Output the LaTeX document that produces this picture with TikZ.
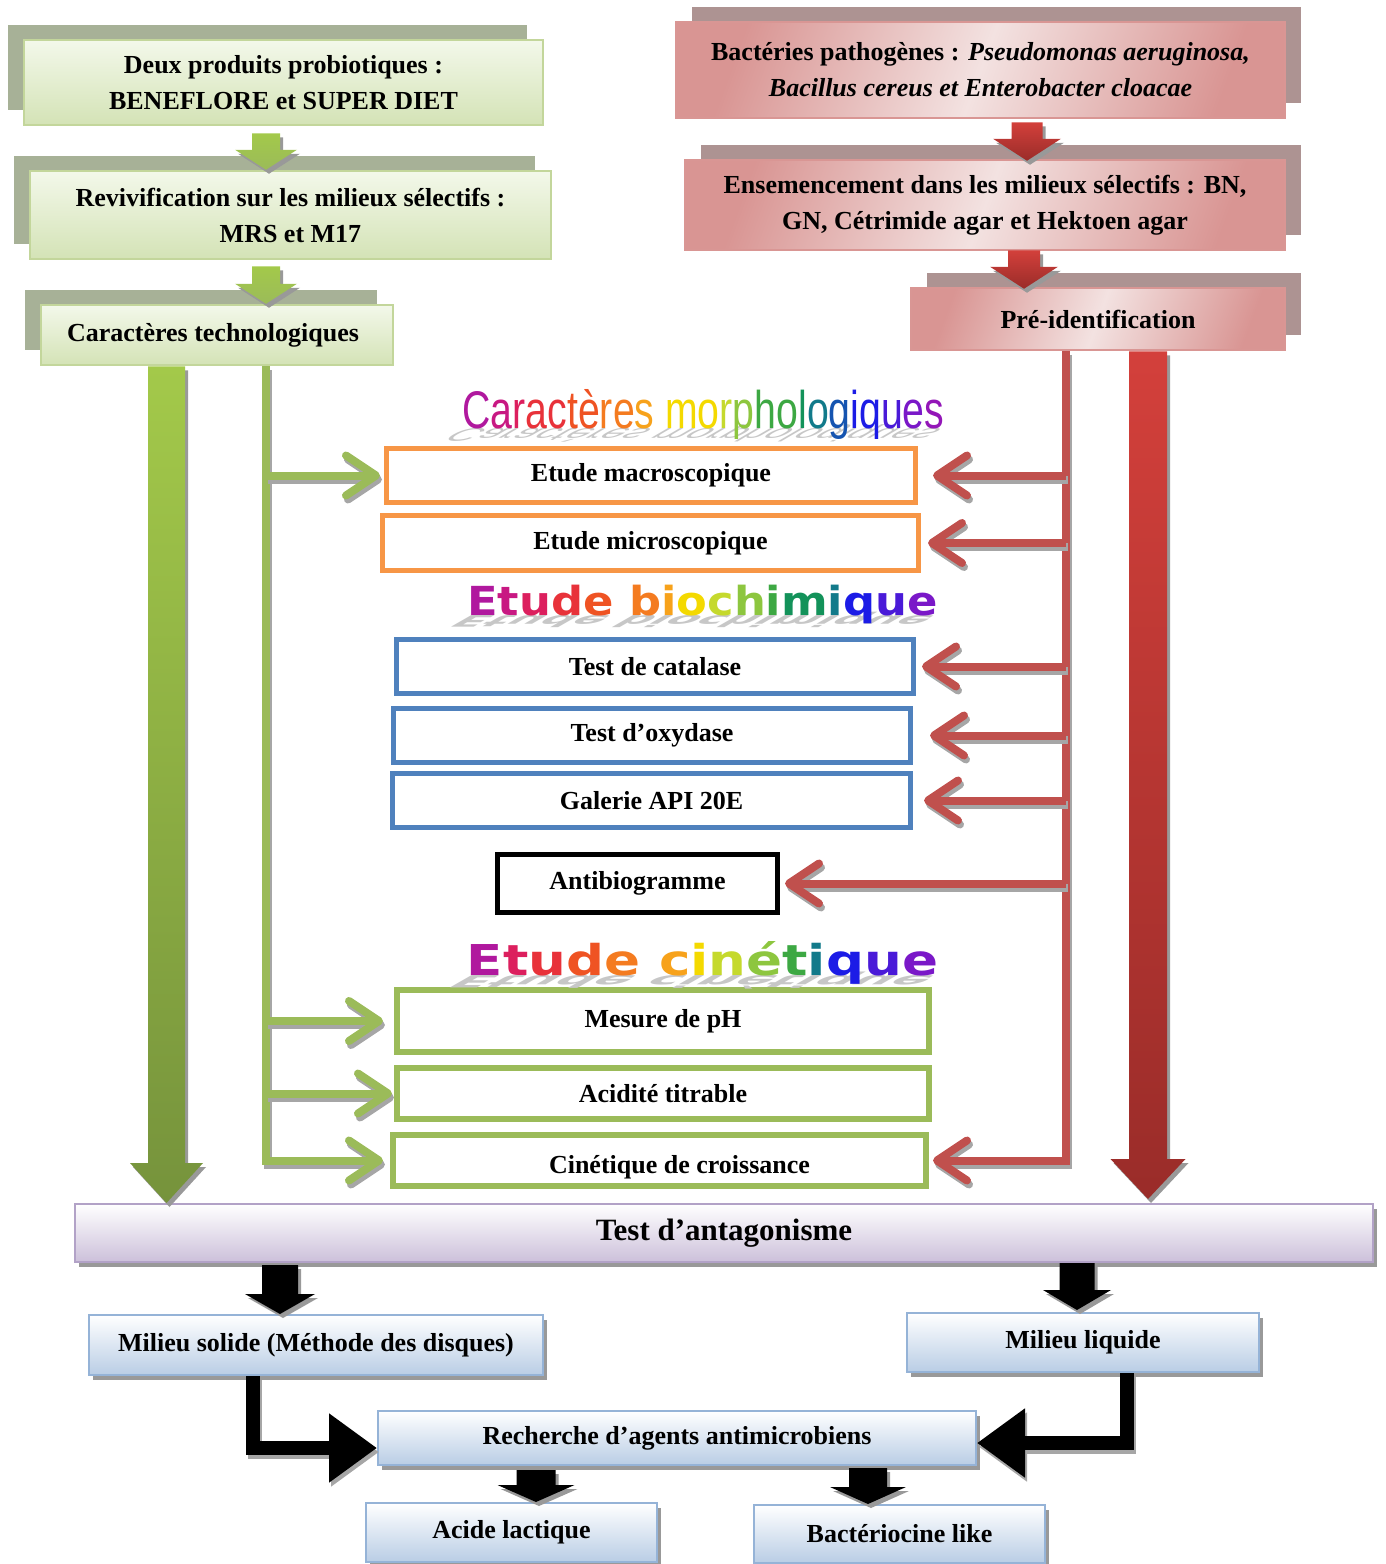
\documentclass[tikz,border=0pt]{standalone}
\usepackage{fontspec}
\setmainfont{Liberation Serif}
\newfontfamily\narrowsans[FakeStretch=0.74]{Liberation Sans}
\newfontfamily\widesans{DejaVu Sans}
\usetikzlibrary{arrows.meta,shadows,calc}
\definecolor{gfillA}{HTML}{F3F8EA}
\definecolor{gfillB}{HTML}{D4E3B6}
\definecolor{gborder}{HTML}{C3D69B}
\definecolor{gshadow}{HTML}{A7B197}
\definecolor{rfillA}{HTML}{F3E2E1}
\definecolor{rfillB}{HTML}{D99593}
\definecolor{rborder}{HTML}{D99694}
\definecolor{rshadow}{HTML}{AD9392}
\definecolor{orng}{HTML}{F79646}
\definecolor{blu}{HTML}{4F81BD}
\definecolor{lgreen}{HTML}{9BBB59}
\definecolor{lred}{HTML}{C0504D}
\definecolor{lavB}{HTML}{CCC0DA}
\definecolor{lavborder}{HTML}{B2A2C7}
\definecolor{lblueB}{HTML}{B9CDE5}
\definecolor{lblueborder}{HTML}{95B3D7}
\definecolor{biggrA}{HTML}{A3C94A}
\definecolor{biggrB}{HTML}{76933C}
\definecolor{bigrA}{HTML}{D3403B}
\definecolor{bigrB}{HTML}{9A2C29}
\definecolor{c1}{HTML}{B0189E}
\definecolor{c2}{HTML}{C81882}
\definecolor{c3}{HTML}{DC1F5E}
\definecolor{c4}{HTML}{E8323A}
\definecolor{c5}{HTML}{EF5323}
\definecolor{c6}{HTML}{F47B20}
\definecolor{c7}{HTML}{F7A21B}
\definecolor{c8}{HTML}{F4D900}
\definecolor{c9}{HTML}{C5D92D}
\definecolor{c10}{HTML}{8DC63F}
\definecolor{c11}{HTML}{3DA843}
\definecolor{c12}{HTML}{13925A}
\definecolor{c13}{HTML}{127A8A}
\definecolor{c14}{HTML}{1554B0}
\definecolor{c15}{HTML}{1C1CE6}
\definecolor{c16}{HTML}{4A1AD8}
\definecolor{c17}{HTML}{7A18C8}
\definecolor{c18}{HTML}{9316B8}
\newcommand{\lc}[2]{\textcolor{#1}{#2}}
\newcommand{\twodraw}[2]{\draw[#1, draw=black!35, transform canvas={shift={(2pt,-4pt)}}] #2; \draw[#1] #2;}
\newcommand{\blockdown}[7]{%
  \path[fill=black!40] let \p1=#1, \p2=#2 in
   (\x1-#3+3pt,\y1-4pt) -- (\x1+#3+3pt,\y1-4pt) -- (\x1+#3+3pt,\y2+#5-4pt) -- (\x1+#4+3pt,\y2+#5-4pt) -- (\x1+3pt,\y2-4pt) -- (\x1-#4+3pt,\y2+#5-4pt) -- (\x1-#3+3pt,\y2+#5-4pt) -- cycle;
  \shade[top color=#6, bottom color=#7] let \p1=#1, \p2=#2 in
   (\x1-#3,\y1) -- (\x1+#3,\y1) -- (\x1+#3,\y2+#5) -- (\x1+#4,\y2+#5) -- (\x1,\y2) -- (\x1-#4,\y2+#5) -- (\x1-#3,\y2+#5) -- cycle;
}
\begin{document}
\begin{tikzpicture}[x=1pt,y=-1pt,
  txt/.style={font=\bfseries\fontsize{26}{36}\selectfont, align=center, inner sep=0pt, text=black},
  gbox/.style={txt, draw=gborder, line width=2.5pt, top color=gfillA, bottom color=gfillB,
     general shadow={fill=gshadow, shadow xshift=-16pt, shadow yshift=15pt}},
  rbox/.style={txt, draw=rborder, line width=2.5pt, left color=rfillB, right color=rfillB, middle color=rfillA, shading angle=70,
     general shadow={fill=rshadow, shadow xshift=16pt, shadow yshift=15pt}},
  obox/.style={txt, draw=orng, line width=5pt, fill=white},
  bbox/.style={txt, draw=blu, line width=5pt, fill=white},
  kbox/.style={txt, draw=black, line width=5pt, fill=white},
  vbox/.style={txt, draw=lgreen, line width=6pt, fill=white},
  lbbox/.style={txt, draw=lblueborder, line width=2pt, top color=white, bottom color=lblueB,
     general shadow={fill=black!40, shadow xshift=4pt, shadow yshift=-5pt}},
  lavbox/.style={txt, draw=lavborder, line width=2pt, top color=white, bottom color=lavB,
     general shadow={fill=black!40, shadow xshift=4pt, shadow yshift=-5pt}},
  grarr/.style={draw=lgreen, line width=8pt, -{Straight Barb[length=30pt,width=40pt,round]}},
  rdarr/.style={draw=lred, line width=8pt, -{Straight Barb[length=30pt,width=40pt,round]}},
  blk/.style={draw=black, line width=14pt, line join=miter, -{Triangle[length=48pt,width=66pt]}},
  ttl/.style={anchor=base, inner sep=0pt}
]
\useasboundingbox (0,0) rectangle (1385,1564);

% ---- top left green boxes
\node[gbox, minimum width=519pt, minimum height=85pt] (g1) at (283.5,82.5) {Deux produits probiotiques :\\BENEFLORE et SUPER DIET};
\node[gbox, minimum width=521pt, minimum height=88pt] (g2) at (290.5,215) {Revivification sur les milieux sélectifs :\\MRS et M17};
\node[gbox, minimum width=352pt, minimum height=60pt] (ct) at (217,335) {Caractères technologiques\hspace*{8pt}};

% ---- top right red boxes
\node[rbox, minimum width=609pt, minimum height=96pt] (r1) at (980.5,70) {Bactéries pathogènes : \textit{Pseudomonas aeruginosa,}\\\textit{Bacillus cereus et Enterobacter cloacae}};
\node[rbox, minimum width=600pt, minimum height=90pt] (r2) at (985,205) {Ensemencement dans les milieux sélectifs : BN,\\GN, Cétrimide agar et Hektoen agar};
\node[rbox, minimum width=374pt, minimum height=62pt] (pi) at (1098,319) {Pré-identification};

% ---- middle boxes
\node[obox, minimum width=529pt, minimum height=54pt] (mac) at (651,475.5) {Etude macroscopique};
\node[obox, minimum width=536pt, minimum height=55pt] (mic) at (650.5,543) {Etude microscopique};
\node[bbox, minimum width=517pt, minimum height=54pt] (cat) at (655,666.5) {Test de catalase};
\node[bbox, minimum width=517pt, minimum height=54pt] (oxy) at (652,735.5) {Test d’oxydase};
\node[bbox, minimum width=518pt, minimum height=54pt] (api) at (651.5,800.5) {Galerie API 20E};
\node[kbox, minimum width=280pt, minimum height=58pt] (anti) at (637.5,883.5) {Antibiogramme};
\node[vbox, minimum width=532pt, minimum height=62pt] (ph) at (663,1021) {Mesure de pH};
\node[vbox, minimum width=532pt, minimum height=51pt] (ac) at (663,1093.5) {Acidité titrable};
\node[vbox, minimum width=533pt, minimum height=51pt] (cc) at (659.5,1160.5) {\raisebox{-7pt}[\height][\depth]{\hspace*{40pt}Cinétique de croissance}};

% ---- bottom boxes
\node[lavbox, minimum width=1298pt, minimum height=58pt, font=\bfseries\fontsize{31}{36}\selectfont] (ta) at (724,1233) {Test d’antagonisme};
\node[lbbox, minimum width=454pt, minimum height=60pt] (ms) at (316,1345) {Milieu solide (Méthode des disques)};
\node[lbbox, minimum width=352pt, minimum height=59pt] (ml) at (1083,1342.5) {Milieu liquide};
\node[lbbox, minimum width=598pt, minimum height=54pt] (rc) at (677,1438) {Recherche d’agents antimicrobiens};
\node[lbbox, minimum width=291pt, minimum height=59pt] (al) at (511.5,1532.5) {Acide lactique};
\node[lbbox, minimum width=291pt, minimum height=58pt] (bl) at (899.5,1534) {Bactériocine like};

% ---- titles (shadows first)
\begin{scope}[shift={(703.5,428)}, cm={1,0,-0.6,-0.35,(0,0)}]
  \node[ttl, transform shape, text=black!22] {\narrowsans\fontsize{53}{53}\selectfont Caractères morphologiques};
\end{scope}
\node[ttl] (t1) at (703.5,428) {\narrowsans\fontsize{53}{53}\selectfont
 \lc{c1}{C}\lc{c2}{a}\lc{c3}{r}\lc{c4}{a}\lc{c4}{c}\lc{c5}{t}\lc{c5}{è}\lc{c6}{r}\lc{c6}{e}\lc{c7}{s} \lc{c8}{m}\lc{c8}{o}\lc{c9}{r}\lc{c10}{p}\lc{c11}{h}\lc{c11}{o}\lc{c12}{l}\lc{c13}{o}\lc{c14}{g}\lc{c15}{i}\lc{c15}{q}\lc{c16}{u}\lc{c17}{e}\lc{c18}{s}};

\begin{scope}[shift={(702.5,615)}, cm={1,0,-0.7,-0.4,(0,0)}]
  \node[ttl, transform shape, text=black!22] {\scalebox{1.12}[1]{\widesans\bfseries\fontsize{40}{40}\selectfont Etude biochimique}};
\end{scope}
\node[ttl] (t2) at (702.5,615) {\scalebox{1.12}[1]{\widesans\bfseries\fontsize{40}{40}\selectfont
 \lc{c1}{E}\lc{c2}{t}\lc{c3}{u}\lc{c4}{d}\lc{c5}{e} \lc{c6}{b}\lc{c7}{i}\lc{c8}{o}\lc{c9}{c}\lc{c10}{h}\lc{c11}{i}\lc{c12}{m}\lc{c13}{i}\lc{c15}{q}\lc{c16}{u}\lc{c17}{e}}};

\begin{scope}[shift={(702.5,975)}, cm={1,0,-0.7,-0.4,(0,0)}]
  \node[ttl, transform shape, text=black!22] {\scalebox{1.25}[1]{\widesans\bfseries\fontsize{42.5}{42.5}\selectfont Etude cinétique}};
\end{scope}
\node[ttl] (t3) at (702.5,975) {\scalebox{1.25}[1]{\widesans\bfseries\fontsize{42.5}{42.5}\selectfont
 \lc{c1}{E}\lc{c3}{t}\lc{c4}{u}\lc{c5}{d}\lc{c6}{e} \lc{c7}{c}\lc{c8}{i}\lc{c9}{n}\lc{c10}{é}\lc{c11}{t}\lc{c13}{i}\lc{c15}{q}\lc{c16}{u}\lc{c17}{e}}};

% ---- small block arrows top
\blockdown{($(266,0 |- g1.south)+(0,7)$)}{(266,0 |- g2.north)}{14pt}{31pt}{20pt}{biggrA}{lgreen}
\blockdown{($(266,0 |- g2.south)+(0,6)$)}{(266,0 |- ct.north)}{14pt}{31pt}{20pt}{biggrA}{lgreen}
\blockdown{($(1027,0 |- r1.south)+(0,3)$)}{($(1027,0 |- r2.north)+(0,2)$)}{15.5pt}{34pt}{22pt}{bigrA}{bigrB}
\blockdown{($(1024,0 |- r2.south)+(0,-1)$)}{($(1024,0 |- pi.north)+(0,2)$)}{16pt}{34pt}{22pt}{bigrA}{bigrB}

% ---- big arrows
\blockdown{(166.5,0 |- ct.south)}{(166.5,0 |- ta.north)}{18.5pt}{36.5pt}{40pt}{biggrA}{biggrB}
\blockdown{(1148,0 |- pi.south)}{($(1148,0 |- ta.north)+(0,-4)$)}{19pt}{37.5pt}{40pt}{bigrA}{bigrB}

% ---- green thin arrows
\twodraw{grarr}{(266,0 |- ct.south) |- ([xshift=-7pt]cc.west)}
\twodraw{grarr}{(266,0 |- mac.west) -- ([xshift=-4pt]mac.west)}
\twodraw{grarr}{(266,0 |- ph.west) -- ([xshift=-11pt]ph.west)}
\twodraw{grarr}{(266,0 |- ac.west) -- ([xshift=-2pt]ac.west)}

% ---- red thin arrows
\twodraw{rdarr}{(1066,0 |- pi.south) |- ([xshift=4pt]cc.east)}
\twodraw{rdarr}{(1066,0 |- mac.east) -- ([xshift=15pt]mac.east)}
\twodraw{rdarr}{(1066,0 |- mic.east) -- ([xshift=7pt]mic.east)}
\twodraw{rdarr}{(1066,0 |- cat.east) -- ([xshift=6pt]cat.east)}
\twodraw{rdarr}{(1066,0 |- oxy.east) -- ([xshift=17pt]oxy.east)}
\twodraw{rdarr}{(1066,0 |- api.east) -- ([xshift=11pt]api.east)}
\twodraw{rdarr}{(1066,0 |- anti.east) -- ([xshift=5pt]anti.east)}

% ---- black arrows bottom
\blockdown{($(280,0 |- ta.south)+(0,2)$)}{(280,0 |- ms.north)}{18pt}{35pt}{20pt}{black}{black}
\blockdown{($(1077,0 |- ta.south)+(0,0)$)}{($(1077,0 |- ml.north)+(0,-2)$)}{17.5pt}{34pt}{20pt}{black}{black}
\blockdown{($(536,0 |- rc.south)+(0,4)$)}{(536,0 |- al.north)}{19.5pt}{38.5pt}{17pt}{black}{black}
\blockdown{($(868,0 |- rc.south)+(0,2)$)}{(868,0 |- bl.north)}{19pt}{38pt}{17pt}{black}{black}
\twodraw{blk}{(253,0 |- ms.south) |- ([yshift=-10pt]rc.west)}
\twodraw{blk}{(1127,0 |- ml.south) |- ([yshift=-5pt]rc.east)}
\end{tikzpicture}
\end{document}
